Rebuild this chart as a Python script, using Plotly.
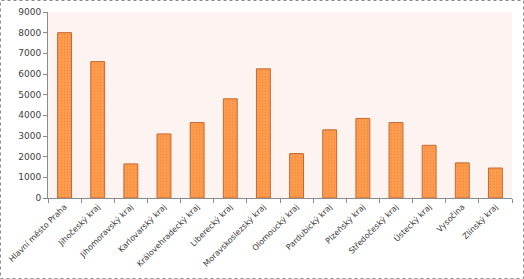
import plotly.graph_objects as go

regions = ["Hlavní město Praha", "Jihočeský kraj", "Jihomoravský kraj", "Karlovarský kraj",
           "Královehradecký kraj", "Liberecký kraj", "Moravskoslezský kraj", "Olomoucký kraj",
           "Pardubický kraj", "Plzeňský kraj", "Středočeský kraj", "Ústecký kraj",
           "Vysočina", "Zlínský kraj"]
values = [8000, 6600, 1650, 3100, 3650, 4800, 6250, 2150, 3300, 3850, 3650, 2550, 1700, 1450]
y_ticks = [0, 1000, 2000, 3000, 4000, 5000, 6000, 7000, 8000, 9000]

W, H = 524, 279
L, R, T, B = 48, 12, 12, 81
pw, ph = W - L - R, H - T - B

fig = go.Figure(go.Bar(
    x=regions, y=values,
    marker=dict(color="#FF9A4A", line=dict(color="#C46A34", width=1),
                pattern=dict(shape=".", fgcolor="#D87A34", bgcolor="#FF9B4C", size=3, solidity=0.15)),
))

fig.update_layout(
    width=W, height=H,
    margin=dict(l=L, r=R, t=T, b=B, autoexpand=False),
    paper_bgcolor="white",
    plot_bgcolor="#FDF3F0",
    bargap=0.58,
    showlegend=False,
    font=dict(family="DejaVu Sans", size=9, color="#404040"),
    xaxis=dict(tickangle=-45, showline=True, linecolor="#8C8C8C", linewidth=1, automargin=False,
               ticks="outside", tickson="boundaries", ticklen=4, tickcolor="#8C8C8C",
               tickfont=dict(size=8), showgrid=False, fixedrange=True),
    yaxis=dict(range=[0, 9000], tickvals=y_ticks, showline=True, linecolor="#8C8C8C", linewidth=1,
               automargin=False,
               ticks="outside", ticklen=4, tickcolor="#8C8C8C", showgrid=False, zeroline=False,
               tickfont=dict(size=9), fixedrange=True),
    shapes=[dict(type="rect", xref="paper", yref="paper",
                 x0=(-L + 0.5) / pw, x1=1 + (R - 0.5) / pw,
                 y0=-(B - 0.5) / ph, y1=1 + (T - 0.5) / ph,
                 line=dict(color="#8C8C8C", width=1, dash="dot"), layer="below")],
)

fig.write_html("out.html")
